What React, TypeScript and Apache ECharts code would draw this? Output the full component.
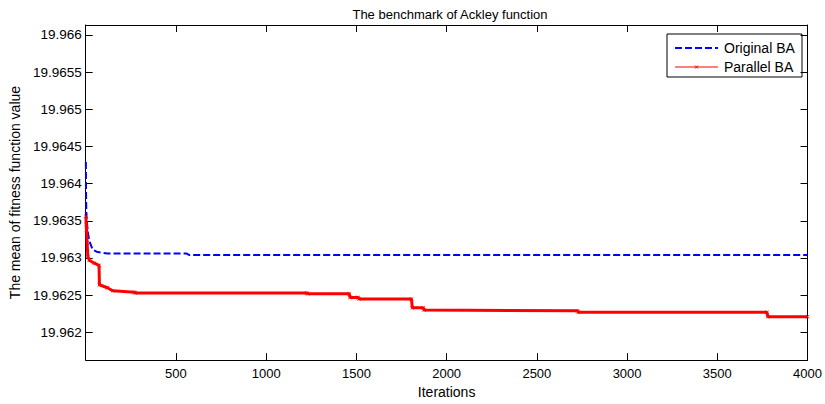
import React, { useEffect, useRef } from "react";
import * as echarts from "echarts";

const titleText = "The benchmark of Ackley function";
const xName = "Iterations";
const yName = "The mean of fitness function value";
const seriesNames = ["Original BA", "Parallel BA"];

const yTicks = [19.962, 19.9625, 19.963, 19.9635, 19.964, 19.9645, 19.965, 19.9655, 19.966];

const originalIter = [1, 2, 4, 11, 20, 39, 66, 120, 560, 575, 4000];
const originalVal = [19.96429, 19.96385, 19.96357, 19.96336, 19.96323, 19.96311, 19.96308, 19.96306, 19.96306, 19.96304, 19.96304];

const parallelIter = [1, 3, 5, 8, 12, 20, 48, 74, 76, 120, 150, 270, 275, 1225, 1230, 1460, 1465, 1510, 1515, 1805, 1810, 1870, 1875, 2725, 2730, 3775, 3780, 4000];
const parallelVal = [19.96356, 19.96345, 19.96338, 19.9632, 19.96302, 19.96297, 19.96293, 19.9629, 19.96264, 19.9626, 19.96256, 19.96254, 19.96253, 19.96253, 19.96252, 19.96252, 19.96247, 19.96247, 19.96245, 19.96245, 19.96233, 19.96233, 19.9623, 19.96229, 19.96227, 19.96227, 19.96221, 19.96221];

const FONT = "'Liberation Sans', Arial, Helvetica, sans-serif";

export default function App() {
  const ref = useRef<HTMLDivElement>(null);
  useEffect(() => {
    document.body.style.margin = "0";
    if (!ref.current) return;
    const chart = echarts.init(ref.current, null, { renderer: "svg" });
    const yMin = 19.961627;
    const yMax = 19.966133;
    const yFmt = (v: number) => parseFloat(Number(v).toFixed(4)).toString();
    const xFmt = (v: number) => (v === 0 ? "" : String(v));
    const axisLine = { show: true, onZero: false, lineStyle: { color: "#000", width: 1 } };
    const tick = { show: true, inside: true, length: 7, lineStyle: { color: "#000" } };
    const legendText = { fontFamily: FONT, fontSize: 14, fill: "#000", verticalAlign: "middle", align: "left" };
    chart.setOption({
      animation: false,
      backgroundColor: "#fff",
      title: {
        text: titleText,
        left: 445,
        textAlign: "center",
        top: 3,
        textStyle: { fontFamily: FONT, fontSize: 13, fontWeight: "normal", color: "#000" },
      },
      grid: { left: 83, right: 17, top: 25, bottom: 41, containLabel: false },
      graphic: [
        {
          type: "group",
          z: 100,
          children: [
            { type: "rect", shape: { x: 667, y: 34, width: 135, height: 43 }, style: { fill: "#fff", stroke: "#000", lineWidth: 1 } },
            { type: "line", shape: { x1: 675, y1: 48, x2: 718, y2: 48 }, style: { stroke: "#0000ff", lineWidth: 2, lineDash: [7, 3] } },
            { type: "text", x: 724, y: 48, style: { ...legendText, text: seriesNames[0] } },
            { type: "line", shape: { x1: 675, y1: 67, x2: 718, y2: 67 }, style: { stroke: "#ff0000", lineWidth: 1 } },
            { type: "line", shape: { x1: 695, y1: 65.5, x2: 698, y2: 68.5 }, style: { stroke: "#ff0000", lineWidth: 1 } },
            { type: "line", shape: { x1: 698, y1: 65.5, x2: 695, y2: 68.5 }, style: { stroke: "#ff0000", lineWidth: 1 } },
            { type: "text", x: 724, y: 67, style: { ...legendText, text: seriesNames[1] } },
          ],
        },
      ],
      xAxis: [
        {
          type: "value",
          min: 0,
          max: 4000,
          interval: 500,
          name: xName,
          nameLocation: "middle",
          nameGap: 24,
          nameTextStyle: { fontFamily: FONT, fontSize: 14, color: "#000" },
          axisLine,
          axisTick: tick,
          splitLine: { show: false },
          axisLabel: { formatter: xFmt, fontFamily: FONT, fontSize: 13, color: "#000", margin: 7 },
        },
        {
          type: "value",
          position: "top",
          min: 0,
          max: 4000,
          interval: 500,
          axisLine,
          axisTick: tick,
          splitLine: { show: false },
          axisLabel: { show: false },
        },
      ],
      yAxis: [
        {
          type: "value",
          min: yMin,
          max: yMax,
          name: yName,
          nameLocation: "middle",
          nameGap: 62,
          nameTextStyle: { fontFamily: FONT, fontSize: 14, color: "#000" },
          axisLine,
          axisTick: { ...tick, customValues: yTicks },
          splitLine: { show: false },
          axisLabel: {
            customValues: yTicks,
            formatter: yFmt,
            fontFamily: FONT,
            fontSize: 13.5,
            color: "#000",
            margin: 4,
          },
        },
        {
          type: "value",
          position: "right",
          min: yMin,
          max: yMax,
          axisLine,
          axisTick: { ...tick, customValues: yTicks },
          splitLine: { show: false },
          axisLabel: { show: false, customValues: yTicks },
        },
      ],
      series: [
        {
          name: seriesNames[0],
          type: "line",
          xAxisIndex: 0,
          yAxisIndex: 0,
          symbol: "none",
          color: "#0000ff",
          lineStyle: { color: "#0000ff", width: 2, type: [7, 3] },
          data: originalIter.map((x, i) => [x, originalVal[i]]),
          z: 3,
        },
        {
          name: seriesNames[1],
          type: "line",
          xAxisIndex: 0,
          yAxisIndex: 0,
          symbol: "path://M0,1L1,0L5,4L9,0L10,1L6,5L10,9L9,10L5,6L1,10L0,9L4,5Z",
          symbolSize: 4,
          showSymbol: true,
          color: "#ff0000",
          itemStyle: { color: "#ff0000" },
          lineStyle: { color: "#ff0000", width: 3 },
          data: parallelIter.map((x, i) => [x, parallelVal[i]]),
          z: 4,
        },
      ],
    });
    return () => chart.dispose();
  }, []);
  return (
    <div
      ref={ref}
      style={{ width: 825, height: 404, position: "absolute", left: 0, top: 0 }}
    />
  );
}
